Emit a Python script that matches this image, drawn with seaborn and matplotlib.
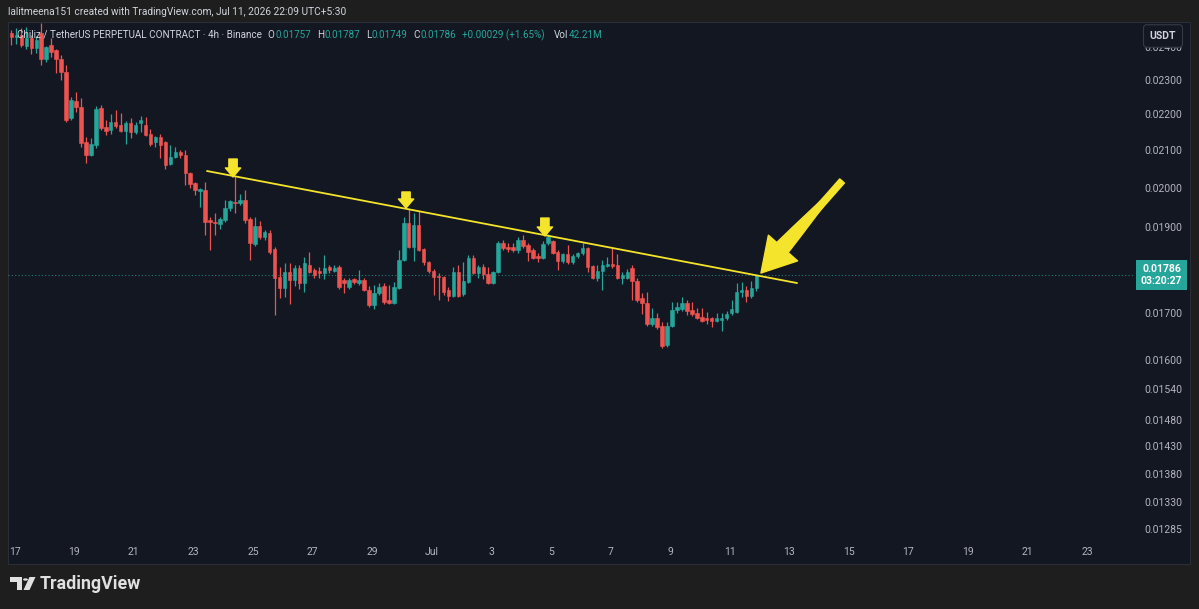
import matplotlib
matplotlib.use('Agg')
import matplotlib.pyplot as plt
import matplotlib.dates as mdates
import matplotlib.ticker as mticker
import matplotlib.transforms as mtransforms
from matplotlib.patches import FancyArrowPatch, Rectangle, Polygon, Circle
import numpy as np
import pandas as pd
import seaborn as sns

# 4h candles, prices in 1e-5 USDT (CHZ/USDT perp), last bar opens Jul 11 21:30
opens = [2445, 2432, 2439, 2405, 2429, 2398, 2445, 2364, 2407, 2392,
         2364, 2325, 2189, 2239, 2221, 2122, 2088, 2114, 2218, 2165,
         2156, 2179, 2170, 2154, 2176, 2151, 2176, 2170, 2145, 2122,
         2136, 2122, 2063, 2082, 2095, 2088, 2039, 2013, 1992, 1994,
         1918, 1913, 1909, 1918, 1948, 1964, 1961, 1969, 1920, 1860,
         1903, 1876, 1886, 1848, 1781, 1756, 1793, 1774, 1803, 1767,
         1810, 1798, 1796, 1791, 1805, 1796, 1805, 1774, 1758, 1777,
         1767, 1774, 1752, 1718, 1745, 1760, 1729, 1723, 1756, 1821,
         1911, 1852, 1906, 1848, 1816, 1796, 1784, 1781, 1752, 1738,
         1793, 1743, 1770, 1826, 1791, 1805, 1788, 1767, 1793, 1862,
         1852, 1852, 1845, 1869, 1857, 1845, 1830, 1826, 1862, 1866,
         1840, 1818, 1835, 1816, 1830, 1837, 1850, 1807, 1779, 1796,
         1808, 1812, 1810, 1779, 1779, 1803, 1772, 1734, 1723, 1676,
         1690, 1672, 1630, 1672, 1707, 1710, 1723, 1707, 1700, 1692,
         1690, 1688, 1683, 1685, 1688, 1700, 1703, 1747, 1752, 1738,
         1757]
highs = [2455, 2460, 2460, 2465, 2440, 2435, 2477, 2405, 2430, 2395,
         2376, 2346, 2250, 2265, 2248, 2136, 2135, 2225, 2227, 2185,
         2200, 2213, 2205, 2182, 2190, 2180, 2195, 2193, 2160, 2140,
         2145, 2125, 2114, 2110, 2100, 2100, 2042, 2015, 2000, 2015,
         1925, 1935, 1925, 1969, 1969, 2032, 1985, 1994, 1925, 1925,
         1915, 1893, 1893, 1852, 1805, 1814, 1814, 1810, 1810, 1828,
         1840, 1803, 1805, 1833, 1810, 1810, 1810, 1778, 1780, 1780,
         1798, 1779, 1760, 1763, 1767, 1767, 1763, 1770, 1845, 1925,
         1945, 1935, 1940, 1850, 1820, 1800, 1790, 1784, 1758, 1805,
         1810, 1816, 1832, 1832, 1810, 1812, 1805, 1796, 1866, 1869,
         1862, 1862, 1876, 1881, 1862, 1850, 1837, 1866, 1883, 1869,
         1845, 1838, 1857, 1835, 1840, 1862, 1852, 1810, 1810, 1821,
         1828, 1850, 1835, 1793, 1800, 1810, 1780, 1745, 1747, 1712,
         1700, 1680, 1680, 1725, 1725, 1736, 1730, 1725, 1712, 1712,
         1703, 1692, 1700, 1700, 1705, 1730, 1767, 1770, 1760, 1772,
         1787]
lows = [2407, 2410, 2400, 2395, 2380, 2383, 2346, 2355, 2370, 2322,
        2301, 2179, 2185, 2207, 2108, 2066, 2085, 2105, 2156, 2142,
        2145, 2162, 2150, 2116, 2135, 2145, 2150, 2140, 2113, 2108,
        2080, 2050, 2060, 2080, 2080, 2007, 1999, 1982, 1951, 1882,
        1845, 1882, 1895, 1913, 1942, 1935, 1955, 1911, 1821, 1855,
        1872, 1870, 1835, 1696, 1734, 1736, 1720, 1760, 1755, 1747,
        1790, 1780, 1780, 1777, 1790, 1792, 1755, 1745, 1755, 1765,
        1763, 1750, 1714, 1709, 1740, 1720, 1720, 1720, 1754, 1819,
        1850, 1819, 1842, 1810, 1790, 1740, 1729, 1740, 1726, 1735,
        1735, 1738, 1767, 1788, 1780, 1776, 1765, 1765, 1791, 1845,
        1840, 1840, 1838, 1850, 1818, 1823, 1816, 1823, 1857, 1835,
        1798, 1815, 1812, 1812, 1826, 1833, 1793, 1776, 1772, 1752,
        1805, 1803, 1776, 1765, 1776, 1729, 1725, 1698, 1672, 1672,
        1666, 1624, 1626, 1670, 1700, 1705, 1696, 1694, 1686, 1680,
        1675, 1670, 1680, 1660, 1685, 1696, 1700, 1735, 1725, 1734,
        1749]
closes = [2432, 2440, 2407, 2430, 2398, 2423, 2364, 2401, 2386, 2364,
          2325, 2185, 2242, 2221, 2119, 2088, 2116, 2215, 2162, 2154,
          2179, 2168, 2154, 2176, 2151, 2170, 2185, 2142, 2116, 2136,
          2114, 2060, 2082, 2095, 2088, 2039, 2010, 1994, 1996, 1913,
          1913, 1911, 1920, 1948, 1966, 1961, 1969, 1918, 1862, 1903,
          1876, 1889, 1840, 1779, 1756, 1793, 1774, 1803, 1767, 1814,
          1793, 1786, 1791, 1803, 1798, 1803, 1758, 1767, 1774, 1770,
          1774, 1752, 1718, 1745, 1758, 1725, 1723, 1758, 1821, 1911,
          1852, 1906, 1845, 1816, 1796, 1781, 1781, 1747, 1738, 1793,
          1738, 1772, 1826, 1791, 1805, 1788, 1767, 1793, 1862, 1850,
          1848, 1845, 1869, 1855, 1840, 1826, 1826, 1860, 1876, 1838,
          1818, 1835, 1816, 1830, 1837, 1850, 1805, 1779, 1796, 1810,
          1812, 1808, 1779, 1786, 1793, 1772, 1729, 1723, 1676, 1690,
          1670, 1628, 1672, 1707, 1714, 1723, 1705, 1698, 1690, 1683,
          1685, 1683, 1688, 1690, 1698, 1710, 1747, 1752, 1738, 1757,
          1786]
last_bar = '2026-07-11 21:30'

price_ticks = [0.024, 0.023, 0.022, 0.021, 0.020, 0.019, 0.018, 0.017,
               0.016, 0.0154, 0.0148, 0.0143, 0.0138, 0.0133, 0.01285]
price_range = [0.012776, 0.024807]
date_range = ['2026-06-16 18:45', '2026-07-24 14:25']

# drawings on the chart
trend_dates = ['2026-06-23 11:00', '2026-07-13 06:15']
trend_prices = [0.020443, 0.017675]
marker_dates = ['2026-06-24 08:00', '2026-06-30 03:20', '2026-07-04 19:10']
marker_tips = [0.020285, 0.019483, 0.018788]
marker_tops = [0.020764, 0.019894, 0.019232]
big_arrow_dates = ['2026-07-14 18:30', '2026-07-12 18:10', '2026-07-12 01:10']  # tail, head base, tip
big_arrow_prices = [0.020180, 0.018498, 0.017906]

UP = '#26a69a'
DOWN = '#ef5350'
BG = '#131722'
OUTER = '#1e1e1e'
TXT = '#b2b5be'
LIGHT = '#d1d4dc'
YEL = '#f5e42c'

sns.set_theme(style='dark', rc={'axes.facecolor': BG, 'figure.facecolor': OUTER})
plt.rcParams['font.family'] = ['Roboto', 'DejaVu Sans']

W, H = 1199, 609
fig = plt.figure(figsize=(W / 100, H / 100), dpi=100)


def fx(x):
    return x / W


def fy(y):
    return 1 - y / H


# chart panel
fig.patches.append(Rectangle((fx(8), fy(564)), fx(1190) - fx(8), fy(22) - fy(564),
                             transform=fig.transFigure, facecolor=BG,
                             edgecolor='#2a2e39', lw=0.8, zorder=-5))

ax = fig.add_axes([fx(8), fy(533), fx(1135) - fx(8), fy(22) - fy(533)])
ax.patch.set_alpha(0)
for s in ax.spines.values():
    s.set_visible(False)
ax.grid(False)

df = pd.DataFrame({'open': np.array(opens) / 1e5, 'high': np.array(highs) / 1e5,
                   'low': np.array(lows) / 1e5, 'close': np.array(closes) / 1e5},
                  index=pd.date_range(end=last_bar, periods=len(opens), freq='4h'))
x = mdates.date2num(df.index.to_pydatetime())
cols = np.where(df['close'] >= df['open'], UP, DOWN)
body_lo = np.minimum(df['open'], df['close'])
body_hi = np.maximum(df['open'], df['close'])

ax.vlines(x, df['low'], df['high'], colors=cols, lw=0.9, zorder=2)
ax.bar(x, body_hi - body_lo, bottom=body_lo, width=0.7 * 4 / 24, color=cols,
       edgecolor=cols, linewidth=0.4, zorder=3)

ax.set_yscale('log')
ax.set_ylim(*price_range)
ax.set_xlim(*mdates.date2num(pd.to_datetime(date_range).to_pydatetime()))

# last price line
ax.axhline(df['close'].iloc[-1], color=UP, ls=(0, (1, 2)), lw=0.8, alpha=0.7, zorder=1)

# trend line
tx = mdates.date2num(pd.to_datetime(trend_dates).to_pydatetime())
sns.lineplot(x=tx, y=trend_prices, ax=ax, color=YEL, lw=1.3, zorder=5)
ax.set_xlabel('')
ax.set_ylabel('')

# small down markers
mx = mdates.date2num(pd.to_datetime(marker_dates).to_pydatetime())
for xi, top, tip in zip(mx, marker_tops, marker_tips):
    ax.add_patch(FancyArrowPatch((xi, top), (xi, tip), mutation_scale=10,
                                 arrowstyle='simple,head_length=0.65,head_width=1.1,tail_width=0.6',
                                 color=YEL, shrinkA=0, shrinkB=0, zorder=6))

# big arrow
bx = mdates.date2num(pd.to_datetime(big_arrow_dates).to_pydatetime())
ax.add_patch(FancyArrowPatch((bx[0], big_arrow_prices[0]), (bx[2], big_arrow_prices[2]),
                             mutation_scale=10,
                             arrowstyle='simple,head_length=2.4,head_width=2.8,tail_width=0.45',
                             color=YEL, shrinkA=0, shrinkB=0, zorder=6))
ax.add_patch(FancyArrowPatch((bx[1], big_arrow_prices[1]), (bx[0], big_arrow_prices[0]),
                             mutation_scale=10, arrowstyle='wedge,tail_width=1.1,shrink_factor=0.55',
                             color=YEL, shrinkA=0, shrinkB=0, zorder=6))

# axes ticks
ax.yaxis.tick_right()
ax.set_yticks(price_ticks)
ax.yaxis.set_minor_locator(mticker.NullLocator())
ax.yaxis.set_major_formatter(mticker.FuncFormatter(lambda v, p: f'{v:.5f}'))
ax.tick_params(axis='y', length=0, pad=7, labelcolor=TXT, labelsize=7.5)

ax.xaxis.set_major_locator(mdates.DayLocator(bymonthday=range(1, 32, 2)))
ax.xaxis.set_minor_locator(mticker.NullLocator())
ax.xaxis.set_major_formatter(mticker.FuncFormatter(
    lambda v, p: 'Jul' if mdates.num2date(v).day == 1 else str(mdates.num2date(v).day)))
ax.tick_params(axis='x', length=0, pad=10, labelcolor=TXT, labelsize=7.5)

# price label on scale (covers the 0.01800 tick as in TradingView)
blend = mtransforms.blended_transform_factory(ax.transAxes, ax.transData)
ax.text(1.0235, df['close'].iloc[-1], f"{df['close'].iloc[-1]:.5f}\n03:20:27", transform=blend,
        ha='center', va='center', multialignment='center', color='white', fontsize=7.5,
        fontweight='bold', linespacing=1.15, clip_on=False, zorder=10,
        bbox=dict(boxstyle='square,pad=0.42', fc=UP, ec='none'))

# USDT box
fig.text(fx(1163), fy(36), 'USDT', ha='center', va='center', color=LIGHT, fontsize=7.5,
         fontweight='bold', zorder=10,
         bbox=dict(boxstyle='round,pad=0.6,rounding_size=0.3', fc=BG, ec='#363a45', lw=0.8))

# header
fig.text(fx(8), fy(12), 'lalitmeena151 created with TradingView.com, Jul 11, 2026 22:09 UTC+5:30',
         color=LIGHT, fontsize=7.3, va='center')

# legend row, laid out left to right
renderer = fig.canvas.get_renderer()
chg = closes[-1] - closes[-2]
legend_parts = [('Chiliz / TetherUS PERPETUAL CONTRACT · 4h · Binance', LIGHT, 6),
                ('O', LIGHT, 0.5), (f'{opens[-1] / 1e5:.5f}', UP, 6),
                ('H', LIGHT, 0.5), (f'{highs[-1] / 1e5:.5f}', UP, 6),
                ('L', LIGHT, 0.5), (f'{lows[-1] / 1e5:.5f}', UP, 6),
                ('C', LIGHT, 0.5), (f'{closes[-1] / 1e5:.5f}', UP, 6),
                (f'+{chg / 1e5:.5f} (+{chg / closes[-2] * 100:.2f}%)', UP, 9),
                ('Vol', LIGHT, 0.5), ('42.21M', UP, 0)]
pos = 17
for txt, col, gap in legend_parts:
    t = fig.text(fx(pos), fy(35), txt, color=col, fontsize=7.1, va='center', zorder=10)
    pos += t.get_window_extent(renderer).width + gap

# TradingView logo
logo = '#e0e0e0'
fig.patches.append(Polygon([(fx(10), fy(577)), (fx(22), fy(577)), (fx(22), fy(590)),
                            (fx(16.5), fy(590)), (fx(16.5), fy(581.5)), (fx(10), fy(581.5))],
                           closed=True, transform=fig.transFigure, fc=logo, ec='none'))
fig.patches.append(Circle((fx(25.5), fy(579.5)), 2.4 / W, transform=fig.transFigure,
                          fc=logo, ec='none'))
fig.patches.append(Polygon([(fx(29.5), fy(577)), (fx(35.5), fy(577)), (fx(29.5), fy(590)),
                            (fx(23.5), fy(590))], closed=True, transform=fig.transFigure,
                           fc=logo, ec='none'))
fig.text(fx(40), fy(584), 'TradingView', color=logo, fontsize=12.8, fontweight='bold',
         va='center')

fig.savefig('out.png', dpi=100, facecolor=OUTER)
